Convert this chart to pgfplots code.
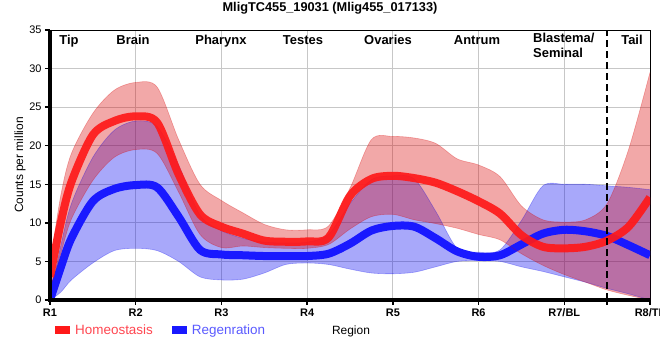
\documentclass[border=0pt]{standalone}
\usepackage{pgfplots}
\usepackage{pgfplotstable}
\pgfplotsset{compat=1.18}
\usepgfplotslibrary{fillbetween}
\usepackage{fontspec}
\setmainfont{Liberation Sans}
\definecolor{bandred}{RGB}{217,0,0}
\definecolor{bandblue}{RGB}{0,0,240}
\definecolor{linered}{RGB}{255,25,25}
\definecolor{lineblue}{RGB}{25,25,255}
\definecolor{txtred}{RGB}{255,70,80}
\definecolor{txtblue}{RGB}{90,90,255}

% Homeostasis: mean (m), upper (u), lower (l)
\pgfplotstableread{
x m u l
1.000 3.0 4.5 1.5
1.125 10.0 13.5 6.0
1.25 15.3 19.0 10.5
1.5 21.4 24.2 15.5
1.75 23.2 27.2 18.5
2.0 23.8 28.2 19.5
2.25 23.0 27.6 19.0
2.5 16.3 20.8 14.0
2.75 11.1 15.0 8.5
3.0 9.5 12.9 6.8
3.25 8.6 11.3 7.0
3.5 7.7 9.8 6.8
3.75 7.55 9.1 6.7
4.0 7.6 9.1 6.7
4.25 8.1 9.6 7.2
4.5 13.5 14.5 9.2
4.75 15.7 20.8 10.8
5.0 16.1 21.2 11.1
5.25 15.8 21.0 10.4
5.5 15.2 20.3 9.9
5.75 14.1 18.3 9.3
6.0 12.8 17.5 8.5
6.25 11.2 16.0 7.8
6.5 8.4 12.2 6.0
6.75 6.9 10.4 4.5
7.0 6.7 10.1 3.3
7.25 6.9 10.4 2.3
7.5 7.7 12.5 1.3
7.75 9.5 19.5 0.6
8.0 13.3 29.5 0.0
}\homeo

% Regeneration: mean (m), upper (u), lower (l)
\pgfplotstableread{
x m u l
1.0 0.0 0.5 0.0
1.125 4.2 7.0 1.0
1.25 8.0 12.5 2.6
1.5 12.8 18.5 4.8
1.75 14.4 22.0 6.4
2.0 14.9 23.2 6.7
2.25 14.6 22.5 6.4
2.5 10.8 17.5 5.0
2.75 6.5 11.0 3.0
3.0 5.9 9.0 2.6
3.25 5.8 8.0 2.7
3.5 5.7 7.5 3.5
3.75 5.7 7.4 4.6
4.0 5.7 7.5 4.8
4.25 6.0 8.5 4.6
4.5 7.3 12.5 4.0
4.75 9.0 15.6 3.5
5.0 9.6 16.1 3.4
5.25 9.5 15.7 3.6
5.5 8.0 11.5 4.3
5.75 6.3 6.7 5.0
6.0 5.6 6.2 5.1
6.25 5.8 6.5 5.0
6.5 7.2 10.3 4.3
6.75 8.6 14.8 3.7
7.0 9.1 15.0 3.0
7.25 8.9 15.0 2.3
7.5 8.3 14.8 1.5
7.75 7.1 14.6 0.8
8.0 5.8 14.3 0.0
}\regen

\begin{document}
\begin{tikzpicture}
\begin{axis}[
  scale only axis, width=600bp, height=270bp,
  xmin=1, xmax=8, ymin=0, ymax=35,
  xtick={1,2,3,4,5,6,7,8},
  xticklabels={R1,R2,R3,R4,R5,R6,R7/BL,R8/TL},
  ytick={0,5,10,15,20,25,30,35},
  extra x ticks={7.5}, extra x tick labels={},
  extra x tick style={grid=none},
  grid=major, major grid style={draw=black!22, line width=0.9bp},
  axis line style={line width=0.9bp, black},
  tick align=outside, tick pos=left, major tick length=5bp,
  every tick/.style={black, line width=1.3bp},
  x tick label style={font=\fontsize{11}{13}\selectfont\bfseries},
  y tick label style={font=\fontsize{11}{13}\selectfont},
  /pgf/number format/assume math mode=true,
  legend columns=2,
  legend cell align=left,
  legend style={at={(rel axis cs:0.0083,-0.111)}, anchor=west, draw=none, fill=none,
    inner sep=0pt, font=\fontsize{13.5}{15}\selectfont,
    /tikz/every even column/.append style={column sep=14bp},
    nodes={inner xsep=5bp}},
  legend image code/.code={\fill (0bp,-4bp) rectangle (15bp,4bp);},
]
\addlegendimage{fill=linered, draw=none}
\addlegendentry{\textcolor{txtred}{Homeostasis}}
\addlegendimage{fill=lineblue, draw=none}
\addlegendentry{\textcolor{txtblue}{Regenration}}

% Regeneration band and line
\addplot[name path=ru, smooth, draw=bandblue, draw opacity=0.3, line width=0.6bp, forget plot] table[x=x,y=u]{\regen};
\addplot[name path=rl, smooth, draw=bandblue, draw opacity=0.3, line width=0.6bp, forget plot] table[x=x,y=l]{\regen};
\addplot[fill=bandblue, fill opacity=0.34, draw=none, forget plot] fill between[of=ru and rl];
\addplot[smooth, lineblue, line width=8bp, forget plot] table[x=x,y=m]{\regen};

% Homeostasis band and line
\addplot[name path=hu, smooth, draw=bandred, draw opacity=0.3, line width=0.6bp, forget plot] table[x=x,y=u]{\homeo};
\addplot[name path=hl, smooth, draw=bandred, draw opacity=0.3, line width=0.6bp, forget plot] table[x=x,y=l]{\homeo};
\addplot[fill=bandred, fill opacity=0.34, draw=none, forget plot] fill between[of=hu and hl];
\addplot[smooth, linered, line width=8bp, opacity=0.92, forget plot] table[x=x,y=m]{\homeo};

\draw[black, line width=2bp, dash pattern=on 7bp off 4bp] (axis cs:7.5,0) -- (axis cs:7.5,35);

\end{axis}
% thick left and bottom axis lines
\draw[black, line width=3bp] (0bp,270bp) -- (0bp,0bp) -- (600bp,0bp);
% top region labels
\begin{scope}[every node/.style={font=\fontsize{13}{14.5}\selectfont\bfseries, inner sep=0pt}]
\node[anchor=base] at (19bp,255.5bp) {Tip};
\node[anchor=base] at (83bp,255.5bp) {Brain};
\node[anchor=base] at (171bp,255.5bp) {Pharynx};
\node[anchor=base] at (253bp,255.5bp) {Testes};
\node[anchor=base] at (338bp,255.5bp) {Ovaries};
\node[anchor=base] at (427bp,255.5bp) {Antrum};
\node[anchor=north west, align=left] at (483bp,267bp) {Blastema/\\Seminal};
\node[anchor=base] at (582bp,255.5bp) {Tail};
\end{scope}
\node[font=\fontsize{12.8}{15}\selectfont\bfseries] at (280bp,292bp) {MligTC455\_19031 (Mlig455\_017133)};
\node[rotate=90, font=\fontsize{12}{14}\selectfont] at (-30bp,135bp) {Counts per million};
\node[font=\fontsize{12}{14}\selectfont] at (301bp,-31bp) {Region};
\pgfresetboundingbox
\useasboundingbox (-50bp,-60bp) rectangle (610bp,300bp);
\end{tikzpicture}
\end{document}
